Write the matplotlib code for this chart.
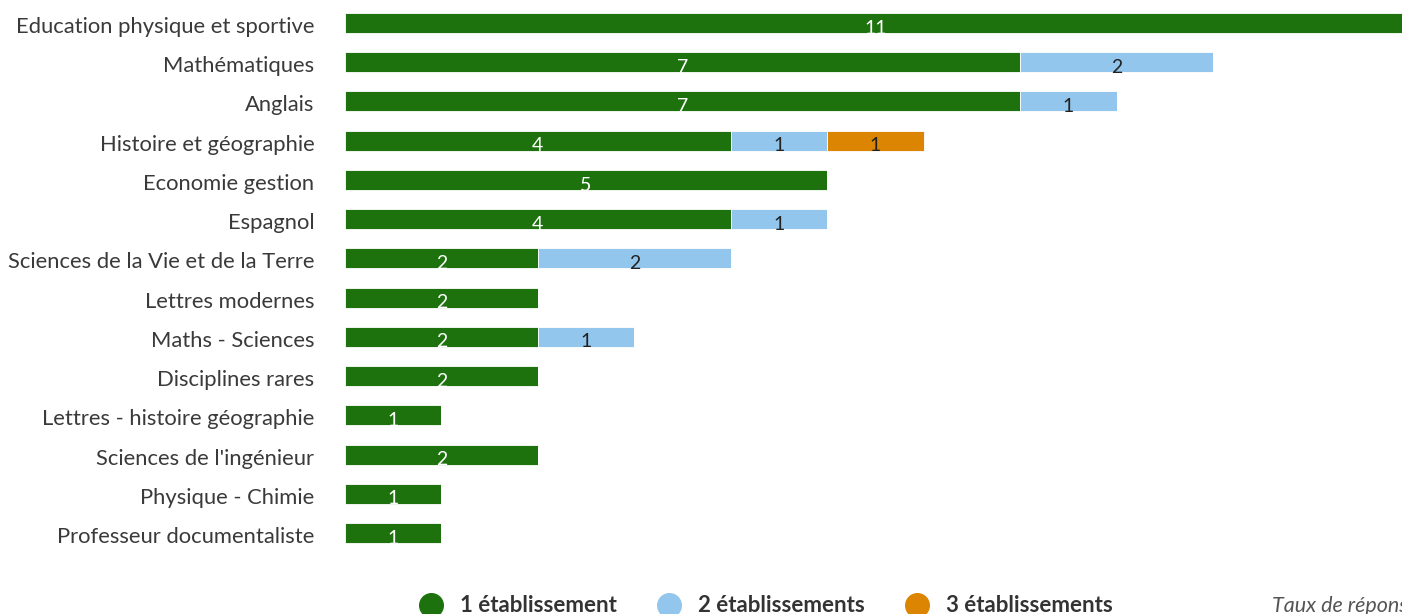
import matplotlib.pyplot as plt
import matplotlib.transforms as mtransforms
from matplotlib.lines import Line2D

# ----------------------------------------------------------------------------
# data
# ----------------------------------------------------------------------------
disciplines = [
    "Education physique et sportive",
    "Mathématiques",
    "Anglais",
    "Histoire et géographie",
    "Economie gestion",
    "Espagnol",
    "Sciences de la Vie et de la Terre",
    "Lettres modernes",
    "Maths - Sciences",
    "Disciplines rares",
    "Lettres - histoire géographie",
    "Sciences de l'ingénieur",
    "Physique - Chimie",
    "Professeur documentaliste",
]
un_etab = [11, 7, 7, 4, 5, 4, 2, 2, 2, 2, 1, 2, 1, 1]
deux_etab = [0, 2, 1, 1, 0, 1, 2, 0, 1, 0, 0, 0, 0, 0]
trois_etab = [0, 0, 0, 1, 0, 0, 0, 0, 0, 0, 0, 0, 0, 0]
series_names = ["1 établissement", "2 établissements", "3 établissements"]

colors = ["#1e720e", "#93c6ec", "#dc8503"]
text_colors = ["white", "#222222", "#222222"]

plt.rcParams['font.family'] = ['Lato', 'DejaVu Sans']

# ----------------------------------------------------------------------------
# plot
# ----------------------------------------------------------------------------
fig = plt.figure(figsize=(14.02, 6.14), dpi=100)
ax = fig.add_axes([345 / 1402, 1 - 553 / 614, 1 - 345 / 1402, 553 / 614])

ypos = list(range(len(disciplines)))
left = [0] * len(disciplines)
for serie, col, tcol in zip([un_etab, deux_etab, trois_etab], colors, text_colors):
    ax.barh(ypos, serie, left=left, height=0.51, color=col,
            edgecolor="white", linewidth=0.6)
    for i in ypos:
        if serie[i] > 0:
            ax.text(left[i] + serie[i] / 2, i + 0.13, str(serie[i]),
                    ha="center", va="center", fontsize=14, color=tcol)
    left = [l + v for l, v in zip(left, serie)]

ax.set_xlim(0, 10.96)
ax.set_ylim(13.51, -0.586)
ax.set_yticks(ypos)
ax.set_yticklabels(disciplines, fontsize=15.8, color="#3a3a3a")
ax.tick_params(axis="y", length=0, pad=22)
# nudge labels down a little
shift = mtransforms.ScaledTranslation(0, -2 / 100, fig.dpi_scale_trans)
for lab in ax.get_yticklabels():
    lab.set_transform(lab.get_transform() + shift)
ax.set_xticks([])
for s in ax.spines.values():
    s.set_visible(False)

# legend
handles = [Line2D([], [], marker="o", linestyle="", markersize=17,
                  markerfacecolor=c, markeredgecolor=c) for c in colors]
fig.legend(handles, series_names, loc="center", ncol=3,
           bbox_to_anchor=(761 / 1402, 1 - 606 / 614), frameon=False,
           prop={"weight": "bold", "size": 16}, labelcolor="#333333",
           handletextpad=0.3, columnspacing=1.35)
fig.text(1272 / 1402, 1 - 606 / 614, "Taux de réponse", fontsize=15.5,
         style="italic", color="#555555", va="center")

plt.savefig("out.png", dpi=100)
